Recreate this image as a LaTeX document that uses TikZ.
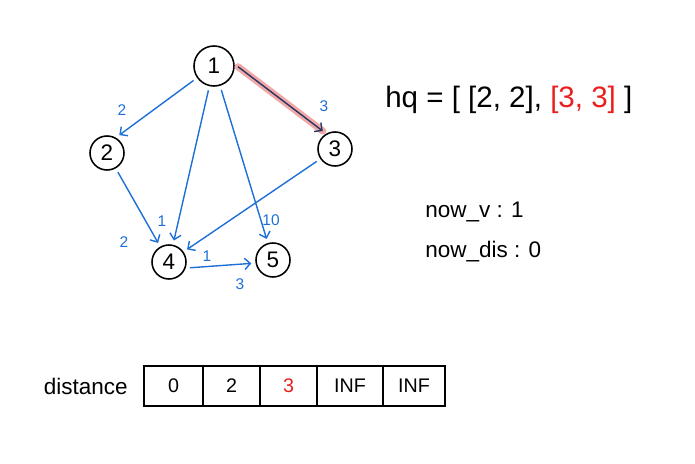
\documentclass[tikz,border=0pt]{standalone}
\usepackage{fontspec}
\setmainfont{Liberation Sans}
\usetikzlibrary{arrows.meta}
\definecolor{penblue}{RGB}{30,112,214}
\definecolor{penred}{RGB}{235,30,30}
\definecolor{hilite}{RGB}{243,168,168}
\definecolor{navy}{RGB}{35,55,100}
\tikzset{
  >={Straight Barb[length=4pt,width=8pt]},
  vtx/.style={draw,circle,line width=1.1pt,minimum size=0.85cm,inner sep=0pt,font=\fontsize{16}{18}\selectfont},
  link/.style={->,penblue,line width=1pt,shorten >=3pt,shorten <=3pt},
  wlab/.style={penblue,inner sep=0pt,font=\fontsize{11}{13}\selectfont},
  cell/.style={draw,line width=1pt,minimum height=1cm,inner sep=0pt,font=\fontsize{14}{16}\selectfont},
  memo/.style={anchor=west,inner sep=0pt,font=\fontsize{16}{18}\selectfont},
}

\begin{document}
\begin{tikzpicture}[x=0.025cm,y=-0.025cm]
        \useasboundingbox (0,0) rectangle (695,464);
        % vertices
        \node [vtx,minimum size=1cm] (n1) at (214,66) {1};
        \node [vtx] (n2) at (107,153) {2};
        \node [vtx] (n3) at (335,149) {3};
        \node [vtx] (n4) at (169,262) {4};
        \node [vtx] (n5) at (273,260) {5};
        % edges
        \draw [hilite,line width=5pt,line cap=round,shorten >=3pt,shorten <=3pt] (n1.5) -- (n3.120);
        \draw [link,navy] (n1.5) -- (n3.120);
        \draw [link] (n1.215) -- (n2.60);
        \draw [link] (n1) -- (n4);
        \draw [link] (n1) -- (n5);
        \draw [link] (n2) -- (n4);
        \draw [link] (n3) -- (n4.35);
        \draw [link] (n4.-20) -- (n5.190);
        % weights
        \node [wlab] (w12) at (122,110) {2};
        \node [wlab] (w13) at (324,106) {3};
        \node [wlab] (w14) at (162,221) {1};
        \node [wlab] (w15) at (271,220) {10};
        \node [wlab] (w24) at (124,242) {2};
        \node [wlab] (w34) at (207,256) {1};
        \node [wlab] (w45) at (240,284) {3};
        % queue and state
        \node [memo,font=\fontsize{21}{24}\selectfont] (hq) at (385,100) {hq = [ [2, 2], \textcolor{penred}{[3, 3]} ]};
        \node [memo] (nowv) at (425,212) {now\_v : 1};
        \node [memo] (nowdis) at (425,252) {now\_dis : 0};
        % distance table
        \node [memo,anchor=east] (dlab) at (128,386) {distance};
        \node [cell,minimum width=1.475cm] (d1) at (173.5,386) {0};
        \node [cell,minimum width=1.425cm] (d2) at (231.5,386) {2};
        \node [cell,minimum width=1.425cm,text=penred] (d3) at (288.5,386) {3};
        \node [cell,minimum width=1.65cm] (d4) at (350,386) {INF};
        \node [cell,minimum width=1.55cm] (d5) at (414,386) {INF};
      \end{tikzpicture}
\end{document}
